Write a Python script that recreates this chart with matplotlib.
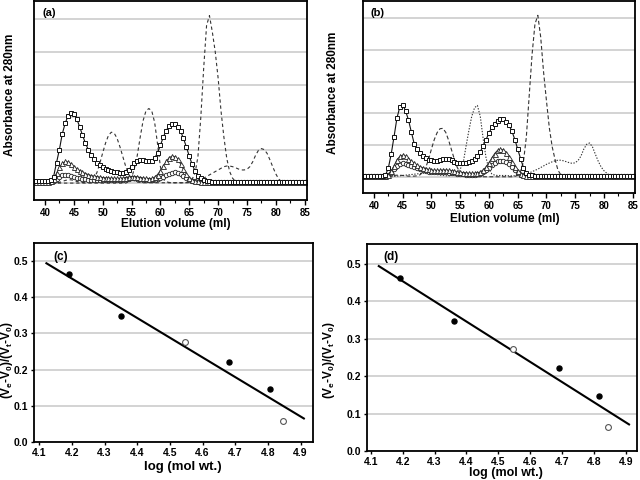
import numpy as np
import matplotlib.pyplot as plt
from matplotlib.ticker import MultipleLocator

plt.rcParams['font.family'] = ['Liberation Sans', 'DejaVu Sans']
plt.rcParams['font.weight'] = 'bold'
plt.rcParams['mathtext.fontset'] = 'custom'
plt.rcParams['mathtext.rm'] = 'Liberation Sans:bold'
plt.rcParams['mathtext.it'] = 'Liberation Sans:bold'
plt.rcParams['mathtext.bf'] = 'Liberation Sans:bold'
plt.rcParams['axes.linewidth'] = 1.3

################################################################################
# elution profiles, sampled every 0.5 ml from 38 to 85 ml

elution = np.arange(38, 85.01, 0.5)

sq_a = [
    0.06, 0.06, 0.05, 0.05, 0.05, 0.05, 0.08, 0.20, 0.62, 1.02,
    1.50, 1.82, 2.05, 2.13, 2.10, 1.96, 1.72, 1.46, 1.22, 1.02,
    0.86, 0.73, 0.62, 0.54, 0.48, 0.43, 0.40, 0.37, 0.35, 0.33,
    0.32, 0.32, 0.35, 0.41, 0.50, 0.60, 0.66, 0.70, 0.70, 0.68,
    0.66, 0.68, 0.76, 0.92, 1.15, 1.40, 1.60, 1.73, 1.79, 1.79,
    1.72, 1.58, 1.36, 1.10, 0.82, 0.57, 0.37, 0.22, 0.14, 0.09,
    0.06, 0.05, 0.04, 0.04, 0.03, 0.03, 0.03, 0.03, 0.03, 0.03,
    0.03, 0.03, 0.03, 0.03, 0.03, 0.03, 0.03, 0.03, 0.03, 0.03,
    0.03, 0.03, 0.03, 0.03, 0.03, 0.03, 0.03, 0.03, 0.03, 0.03,
    0.03, 0.03, 0.03, 0.03, 0.03,
]
tri_a = [
    0.03, 0.03, 0.03, 0.03, 0.03, 0.03, 0.05, 0.12, 0.30, 0.48,
    0.60, 0.66, 0.64, 0.58, 0.50, 0.43, 0.38, 0.33, 0.29, 0.26,
    0.23, 0.21, 0.20, 0.18, 0.17, 0.16, 0.15, 0.15, 0.14, 0.14,
    0.14, 0.15, 0.17, 0.19, 0.20, 0.20, 0.19, 0.17, 0.15, 0.14,
    0.13, 0.14, 0.18, 0.26, 0.38, 0.52, 0.66, 0.77, 0.82, 0.80,
    0.72, 0.58, 0.42, 0.28, 0.17, 0.10, 0.07, 0.05, 0.04, 0.03,
    0.03, 0.03, 0.03, 0.03, 0.03, 0.03, 0.03, 0.03, 0.03, 0.03,
    0.03, 0.03, 0.03, 0.03, 0.03, 0.03, 0.03, 0.03, 0.03, 0.03,
    0.03, 0.03, 0.03, 0.03, 0.03, 0.03, 0.03, 0.03, 0.03, 0.03,
    0.03, 0.03, 0.03, 0.03, 0.03,
]
circ_a = [
    0.03, 0.03, 0.03, 0.03, 0.03, 0.03, 0.03, 0.06, 0.12, 0.19,
    0.24, 0.26, 0.25, 0.22, 0.19, 0.16, 0.14, 0.12, 0.11, 0.10,
    0.09, 0.09, 0.09, 0.09, 0.08, 0.08, 0.08, 0.08, 0.08, 0.09,
    0.09, 0.10, 0.11, 0.13, 0.14, 0.14, 0.13, 0.12, 0.10, 0.09,
    0.08, 0.08, 0.09, 0.11, 0.15, 0.20, 0.25, 0.29, 0.32, 0.33,
    0.31, 0.27, 0.21, 0.15, 0.10, 0.07, 0.05, 0.03, 0.03, 0.03,
    0.03, 0.03, 0.03, 0.03, 0.03, 0.03, 0.03, 0.03, 0.03, 0.03,
    0.03, 0.03, 0.03, 0.03, 0.03, 0.03, 0.03, 0.03, 0.03, 0.03,
    0.03, 0.03, 0.03, 0.03, 0.03, 0.03, 0.03, 0.03, 0.03, 0.03,
    0.03, 0.03, 0.03, 0.03, 0.03,
]
std1_a = [
    0.00, 0.00, 0.00, 0.00, 0.00, 0.00, 0.00, 0.00, 0.00, 0.02,
    0.05, 0.08, 0.10, 0.10, 0.08, 0.05, 0.03, 0.02, 0.02, 0.03,
    0.06, 0.15, 0.32, 0.60, 0.92, 1.22, 1.45, 1.55, 1.52, 1.36,
    1.10, 0.80, 0.50, 0.27, 0.13, 0.06, 0.03, 0.02, 0.01, 0.01,
    0.01, 0.01, 0.01, 0.01, 0.01, 0.01, 0.01, 0.01, 0.01, 0.01,
    0.01, 0.01, 0.01, 0.02, 0.05, 0.12, 0.30, 0.80, 2.00, 3.50,
    4.80, 5.10, 4.60, 4.00, 3.20, 2.20, 1.40, 0.75, 0.35, 0.15,
    0.05, 0.02, 0.00, 0.00, 0.00, 0.00, 0.00, 0.00, 0.00, 0.00,
    0.00, 0.00, 0.00, 0.00, 0.00, 0.00, 0.00, 0.00, 0.00, 0.00,
    0.00, 0.00, 0.00, 0.00, 0.00,
]
std2_a = [
    0.00, 0.00, 0.00, 0.00, 0.00, 0.00, 0.00, 0.00, 0.00, 0.00,
    0.00, 0.00, 0.00, 0.00, 0.00, 0.00, 0.00, 0.00, 0.00, 0.00,
    0.00, 0.00, 0.00, 0.00, 0.00, 0.00, 0.00, 0.00, 0.00, 0.00,
    0.00, 0.00, 0.00, 0.04, 0.15, 0.45, 0.85, 1.40, 1.90, 2.20,
    2.27, 2.20, 1.85, 1.20, 0.50, 0.12, 0.04, 0.02, 0.01, 0.01,
    0.01, 0.01, 0.01, 0.01, 0.01, 0.03, 0.05, 0.08, 0.12, 0.15,
    0.20, 0.25, 0.30, 0.35, 0.40, 0.45, 0.50, 0.52, 0.52, 0.50,
    0.47, 0.43, 0.40, 0.40, 0.42, 0.50, 0.65, 0.85, 1.00, 1.05,
    1.02, 0.90, 0.70, 0.48, 0.28, 0.12, 0.05, 0.02, 0.00, 0.00,
    0.00, 0.00, 0.00, 0.00, 0.00,
]

sq_b = [
    0.02, 0.02, 0.02, 0.02, 0.02, 0.02, 0.02, 0.02, 0.06, 0.28,
    0.72, 1.27, 1.85, 2.20, 2.27, 2.08, 1.80, 1.42, 1.05, 0.88,
    0.76, 0.66, 0.59, 0.55, 0.53, 0.52, 0.52, 0.54, 0.56, 0.58,
    0.57, 0.53, 0.48, 0.45, 0.44, 0.44, 0.45, 0.48, 0.52, 0.58,
    0.66, 0.80, 0.98, 1.18, 1.38, 1.56, 1.68, 1.77, 1.81, 1.81,
    1.74, 1.62, 1.44, 1.18, 0.88, 0.58, 0.30, 0.14, 0.07, 0.05,
    0.04, 0.03, 0.02, 0.02, 0.02, 0.02, 0.02, 0.02, 0.02, 0.02,
    0.02, 0.02, 0.02, 0.02, 0.02, 0.02, 0.02, 0.02, 0.02, 0.02,
    0.02, 0.02, 0.02, 0.02, 0.02, 0.02, 0.02, 0.02, 0.02, 0.02,
    0.02, 0.02, 0.02, 0.02, 0.02,
]
tri_b = [
    0.02, 0.02, 0.02, 0.02, 0.02, 0.02, 0.02, 0.02, 0.02, 0.06,
    0.18, 0.36, 0.54, 0.65, 0.69, 0.66, 0.58, 0.50, 0.43, 0.37,
    0.32, 0.29, 0.26, 0.24, 0.22, 0.21, 0.21, 0.21, 0.22, 0.22,
    0.21, 0.20, 0.18, 0.16, 0.15, 0.14, 0.13, 0.12, 0.12, 0.12,
    0.13, 0.16, 0.22, 0.32, 0.45, 0.60, 0.74, 0.84, 0.87, 0.85,
    0.77, 0.64, 0.48, 0.33, 0.20, 0.11, 0.06, 0.04, 0.02, 0.02,
    0.02, 0.02, 0.02, 0.02, 0.02, 0.02, 0.02, 0.02, 0.02, 0.02,
    0.02, 0.02, 0.02, 0.02, 0.02, 0.02, 0.02, 0.02, 0.02, 0.02,
    0.02, 0.02, 0.02, 0.02, 0.02, 0.02, 0.02, 0.02, 0.02, 0.02,
    0.02, 0.02, 0.02, 0.02, 0.02,
]
circ_b = [
    0.02, 0.02, 0.02, 0.02, 0.02, 0.02, 0.02, 0.02, 0.02, 0.05,
    0.12, 0.24, 0.35, 0.41, 0.43, 0.42, 0.39, 0.35, 0.31, 0.27,
    0.24, 0.21, 0.19, 0.17, 0.16, 0.15, 0.15, 0.15, 0.15, 0.15,
    0.14, 0.13, 0.12, 0.11, 0.10, 0.09, 0.08, 0.08, 0.08, 0.08,
    0.09, 0.11, 0.15, 0.21, 0.29, 0.37, 0.44, 0.49, 0.51, 0.51,
    0.47, 0.40, 0.31, 0.22, 0.14, 0.08, 0.05, 0.03, 0.02, 0.02,
    0.02, 0.02, 0.02, 0.02, 0.02, 0.02, 0.02, 0.02, 0.02, 0.02,
    0.02, 0.02, 0.02, 0.02, 0.02, 0.02, 0.02, 0.02, 0.02, 0.02,
    0.02, 0.02, 0.02, 0.02, 0.02, 0.02, 0.02, 0.02, 0.02, 0.02,
    0.02, 0.02, 0.02, 0.02, 0.02,
]
std1_b = [
    0.00, 0.00, 0.00, 0.00, 0.00, 0.00, 0.00, 0.00, 0.00, 0.01,
    0.03, 0.05, 0.06, 0.06, 0.05, 0.04, 0.03, 0.03, 0.03, 0.04,
    0.07, 0.15, 0.30, 0.55, 0.88, 1.18, 1.40, 1.52, 1.53, 1.40,
    1.15, 0.85, 0.55, 0.30, 0.14, 0.06, 0.03, 0.02, 0.01, 0.01,
    0.01, 0.01, 0.01, 0.01, 0.01, 0.01, 0.01, 0.01, 0.01, 0.01,
    0.01, 0.01, 0.01, 0.02, 0.06, 0.18, 0.48, 1.25, 2.55, 3.85,
    4.80, 5.08, 4.40, 3.30, 2.40, 1.55, 0.95, 0.55, 0.22, 0.07,
    0.03, 0.01, 0.00, 0.00, 0.00, 0.00, 0.00, 0.00, 0.00, 0.00,
    0.00, 0.00, 0.00, 0.00, 0.00, 0.00, 0.00, 0.00, 0.00, 0.00,
    0.00, 0.00, 0.00, 0.00, 0.00,
]
std2_b = [
    0.00, 0.00, 0.00, 0.00, 0.00, 0.00, 0.00, 0.00, 0.00, 0.00,
    0.01, 0.02, 0.03, 0.04, 0.05, 0.06, 0.07, 0.08, 0.09, 0.10,
    0.11, 0.12, 0.13, 0.13, 0.12, 0.10, 0.08, 0.06, 0.05, 0.04,
    0.04, 0.05, 0.08, 0.15, 0.25, 0.42, 0.95, 1.45, 1.90, 2.18,
    2.25, 1.90, 1.20, 0.60, 0.25, 0.10, 0.06, 0.05, 0.05, 0.05,
    0.05, 0.04, 0.04, 0.04, 0.05, 0.06, 0.08, 0.10, 0.13, 0.17,
    0.21, 0.25, 0.30, 0.35, 0.40, 0.44, 0.48, 0.51, 0.53, 0.53,
    0.51, 0.48, 0.45, 0.43, 0.45, 0.52, 0.66, 0.88, 1.03, 1.07,
    0.95, 0.72, 0.50, 0.32, 0.20, 0.12, 0.06, 0.03, 0.00, 0.00,
    0.00, 0.00, 0.00, 0.00, 0.00,
]

# calibration: log(mol wt.) against (Ve-V0)/(Vt-V0)
c_std_x = [4.19, 4.35, 4.68, 4.806]
c_std_y = [0.463, 0.347, 0.221, 0.147]
c_smp_x = [4.546, 4.846]
c_smp_y = [0.276, 0.058]
c_fit_x = [4.122, 4.91]
c_fit_y = [0.494, 0.065]

d_std_x = [4.19, 4.36, 4.69, 4.815]
d_std_y = [0.463, 0.348, 0.222, 0.148]
d_smp_x = [4.545, 4.845]
d_smp_y = [0.272, 0.064]
d_fit_x = [4.125, 4.91]
d_fit_y = [0.494, 0.071]

################################################################################

def draw_profile(ax, sq, tri, circ, std1, std2, dash1, dash2, ylim):
    ax.plot(elution, std1, color="#333333", linewidth=0.8, dashes=dash1)
    ax.plot(elution, std2, color="#333333", linewidth=0.8, dashes=dash2)
    ax.plot(elution, circ, color="#222222", linewidth=0.7, marker="o",
            markersize=3.2, markerfacecolor="white", markeredgewidth=0.6)
    ax.plot(elution, tri, color="#222222", linewidth=0.7, marker="^",
            markersize=3.6, markerfacecolor="white", markeredgewidth=0.6)
    ax.plot(elution, sq, color="#111111", linewidth=0.8, marker="s",
            markersize=3.3, markerfacecolor="white", markeredgewidth=0.7)

    ax.set_xlim(38.1, 85.4)
    ax.set_ylim(*ylim)
    ax.xaxis.set_major_locator(MultipleLocator(5))
    ax.xaxis.set_minor_locator(MultipleLocator(2.5))
    ax.set_yticks(range(6))
    ax.tick_params(axis="y", length=0, labelleft=False)
    ax.tick_params(axis="x", which="major", direction="out", length=3.5, width=1, labelsize=7, pad=2)
    ax.tick_params(axis="x", which="minor", direction="out", length=2, width=0.8)
    ax.grid(axis="y", color="#c8c8c8", linewidth=1.1)
    ax.set_axisbelow(True)


def draw_calibration(ax, std_x, std_y, smp_x, smp_y, fit_x, fit_y, ylim, xlim):
    ax.plot(fit_x, fit_y, color="black", linewidth=1.5)
    ax.plot(std_x, std_y, linestyle="none", marker="o", markersize=3.6, color="black")
    ax.plot(smp_x, smp_y, linestyle="none", marker="o", markersize=4.2,
            markerfacecolor="white", markeredgecolor="#555555", markeredgewidth=0.8)
    ax.set_xlim(*xlim)
    ax.set_ylim(*ylim)
    ax.xaxis.set_major_locator(MultipleLocator(0.1))
    ax.yaxis.set_major_locator(MultipleLocator(0.1))
    ax.tick_params(direction="out", length=2.5, width=1, labelsize=7.5, pad=1.5)
    ax.grid(axis="y", color="#c8c8c8", linewidth=1.1)
    ax.set_axisbelow(True)


fig = plt.figure(figsize=(6.4, 4.8), dpi=100)

ax_a = fig.add_axes([34 / 640, 280 / 480, 273 / 640, 199 / 480])
draw_profile(ax_a, sq_a, tri_a, circ_a, std1_a, std2_a, (3, 2.5), (3, 2.5), (-0.515, 5.545))
ax_a.text(0.03, 0.94, "(a)", transform=ax_a.transAxes, fontsize=8, va="center")

ax_b = fig.add_axes([363 / 640, 287 / 480, 272 / 640, 192 / 480])
draw_profile(ax_b, sq_b, tri_b, circ_b, std1_b, std2_b, (3.5, 2.2), (1.2, 1.4), (-0.5, 5.53))
ax_b.text(0.026, 0.94, "(b)", transform=ax_b.transAxes, fontsize=8, va="center")

ax_c = fig.add_axes([34 / 640, 38 / 480, 279 / 640, 199 / 480])
draw_calibration(ax_c, c_std_x, c_std_y, c_smp_x, c_smp_y, c_fit_x, c_fit_y, (0, 0.55), (4.084, 4.938))
ax_c.text(0.068, 0.93, "(c)", transform=ax_c.transAxes, fontsize=8.5, va="center")

ax_d = fig.add_axes([367 / 640, 29 / 480, 270 / 640, 207 / 480])
draw_calibration(ax_d, d_std_x, d_std_y, d_smp_x, d_smp_y, d_fit_x, d_fit_y, (0, 0.553), (4.088, 4.935))
ax_d.text(0.06, 0.937, "(d)", transform=ax_d.transAxes, fontsize=8.5, va="center")

fig.text(10 / 640, 1 - 95 / 480, "Absorbance at 280nm", rotation=90, fontsize=8.5, ha="center", va="center")
fig.text(333 / 640, 1 - 93 / 480, "Absorbance at 280nm", rotation=90, fontsize=8.5, ha="center", va="center")
fig.text(176 / 640, 1 - 224 / 480, "Elution volume (ml)", fontsize=8.5, ha="center", va="center")
fig.text(505 / 640, 1 - 219 / 480, "Elution volume (ml)", fontsize=8.5, ha="center", va="center")

ylab = r"(V$_e$-V$_0$)/(V$_t$-V$_0$)"
fig.text(7 / 640, 1 - 360 / 480, ylab, rotation=90, fontsize=8.5, ha="center", va="center")
fig.text(329 / 640, 1 - 360 / 480, ylab, rotation=90, fontsize=8.5, ha="center", va="center")
fig.text(183 / 640, 1 - 467 / 480, "log (mol wt.)", fontsize=9.5, ha="center", va="center")
fig.text(506 / 640, 1 - 473 / 480, "log (mol wt.)", fontsize=9, ha="center", va="center")

fig.savefig("out.png", dpi=100)
